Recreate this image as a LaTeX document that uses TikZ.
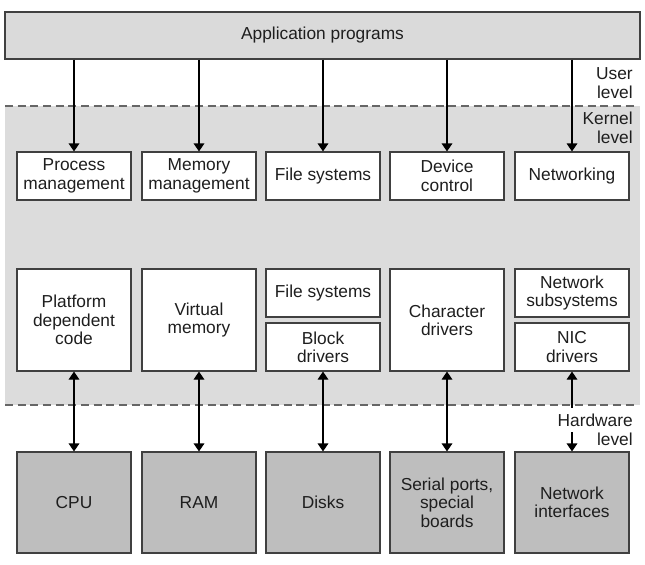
\documentclass[tikz,border=0pt]{standalone}
\usepackage{fontspec}
\setmainfont{Liberation Sans}
\usetikzlibrary{arrows.meta}
\definecolor{appgray}{HTML}{DADADA}
\definecolor{kernelgray}{HTML}{DCDCDC}
\definecolor{hwgray}{HTML}{BEBEBE}
\definecolor{ink}{HTML}{1E1E1E}

\begin{document}
\begin{tikzpicture}[x=0.75pt, y=-0.75pt, >={Triangle[length=6pt,width=8pt]},
  font=\fontsize{13}{13.8}\selectfont, text=ink,
  box/.style={draw=black!75, line width=0.85pt, fill=white, align=center,
    minimum width=85.5pt, minimum height=36pt, inner sep=1pt},
  tallbox/.style={box, minimum height=76.5pt},
  hwbox/.style={box, fill=hwgray, minimum height=75.75pt},
  level/.style={align=right, inner sep=0pt},
  link/.style={line width=0.85pt, black}]
  \useasboundingbox (0,0) rectangle (645,564);
  \fill[kernelgray] (5,106) rectangle (640,405);
  \draw[black!60, line width=1.2pt, dash pattern=on 6pt off 3.5pt] (5,106) -- (634,106);
  \draw[black!60, line width=1.2pt, dash pattern=on 6pt off 3.5pt] (5,405) -- (634,405);
  \node[draw=black!75, line width=0.85pt, fill=appgray, minimum width=476.25pt,
    minimum height=35.25pt] (app) at (322.5,35.5) {Application programs};

  \node[level, anchor=east] (user) at (633,83) {User\\level};
  \node[level, anchor=east] (kernel) at (633,128) {Kernel\\level};
  \node[level, anchor=east] (hw) at (633,420) {Hardware};
  \node[level, anchor=east] (hwlvl) at (633,439) {level};
  \coordinate (hwgap) at (572,408);

  % kernel services
  \node[box] (proc) at (74,176) {Process\\management};
  \node[box] (mem) at (199,176) {Memory\\management};
  \node[box] (fs) at (323,176) {File systems};
  \node[box] (dev) at (447,176) {Device\\control};
  \node[box] (net) at (572,176) {Networking};

  % lower kernel
  \node[tallbox] (pdc) at (74,320) {Platform\\dependent\\code};
  \node[tallbox] (vm) at (199,320) {Virtual\\memory};
  \node[box] (fs2) at (323,293) {File systems};
  \node[box] (blk) at (323,347) {Block\\drivers};
  \node[tallbox] (chr) at (447,320) {Character\\drivers};
  \node[box] (nsub) at (572,293) {Network\\subsystems};
  \node[box] (nic) at (572,347) {NIC\\drivers};

  % hardware
  \node[hwbox] (cpu) at (74,502.5) {CPU};
  \node[hwbox] (ram) at (199,502.5) {RAM};
  \node[hwbox] (disk) at (323,502.5) {Disks};
  \node[hwbox] (serial) at (447,502.5) {Serial ports,\\special\\boards};
  \node[hwbox] (netif) at (572,502.5) {Network\\interfaces};

  \foreach \n in {proc,mem,fs,dev,net}
    \draw[link, ->] (app.south -| \n) -- (\n);
  \foreach \a/\b in {pdc/cpu,vm/ram,blk/disk,chr/serial}
    \draw[link, <->] (\a) -- (\b);
  \draw[link, <-] (nic) -- (hwgap);
  \draw[link, ->] (nic |- hwlvl.north) -- (netif);
\end{tikzpicture}
\end{document}
